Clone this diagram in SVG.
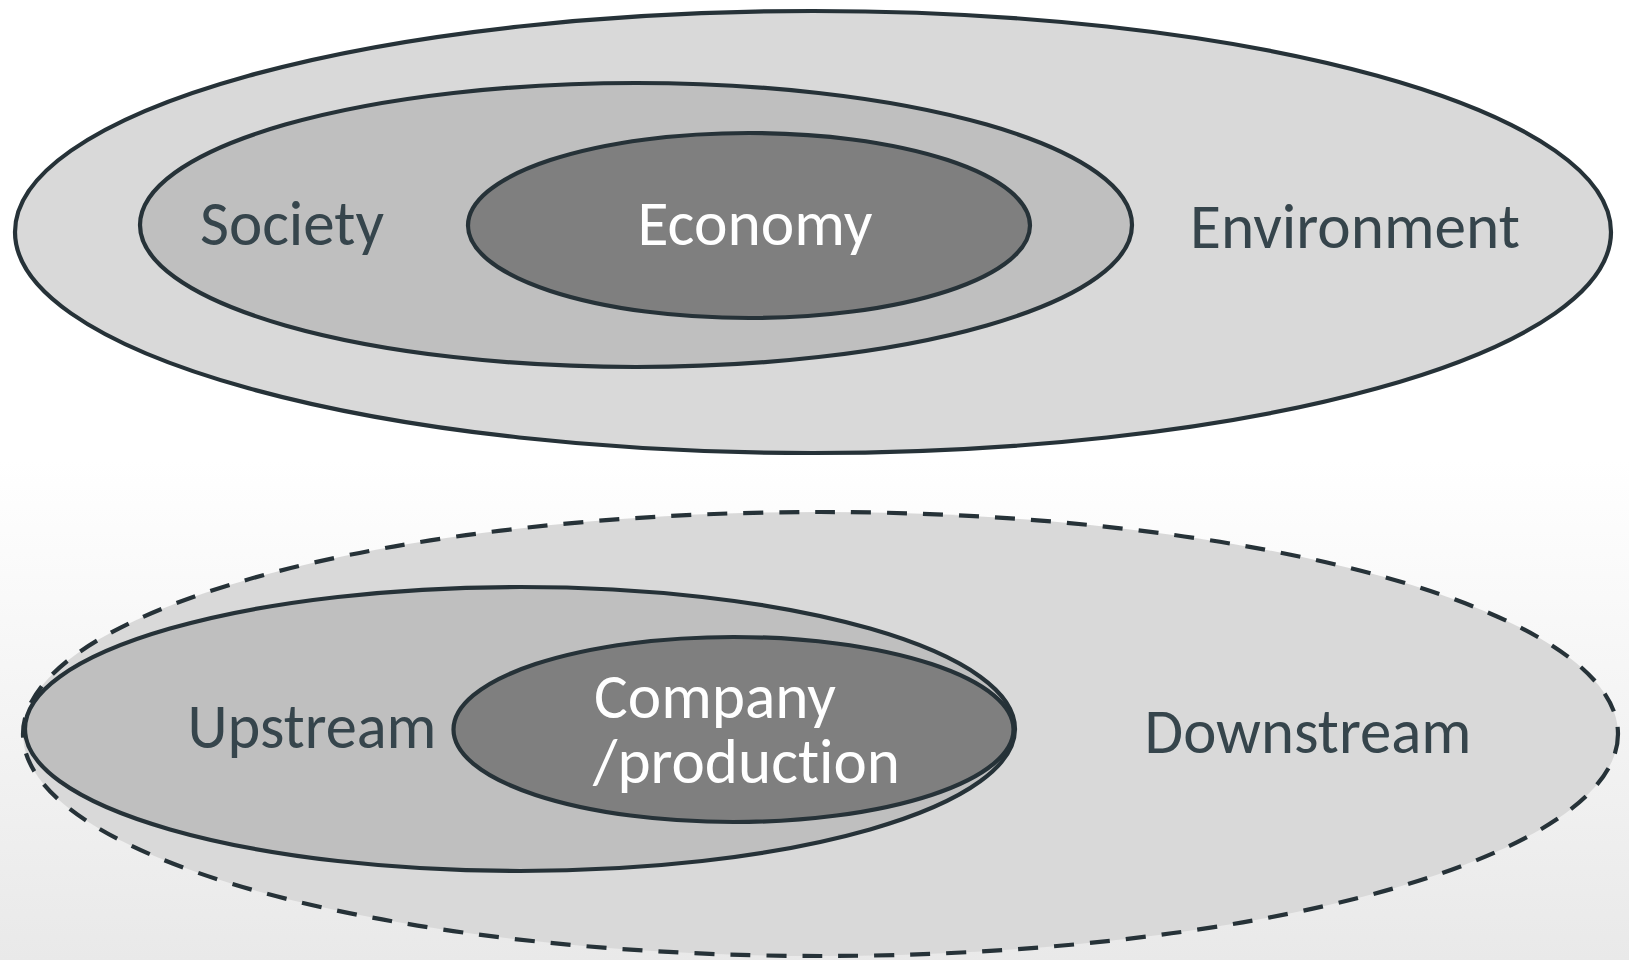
<svg xmlns="http://www.w3.org/2000/svg" width="1629" height="960" viewBox="0 0 1629 960">
  <defs>
    <linearGradient id="bg" x1="0" y1="0" x2="0" y2="1">
      <stop offset="0" stop-color="#ffffff"/>
      <stop offset="0.48" stop-color="#ffffff"/>
      <stop offset="1" stop-color="#e9e9e9"/>
    </linearGradient>
    <style>
      .ring { stroke: #263238; stroke-width: 4.2; }
      .outer { fill: #d9d9d9; }
      .mid { fill: #bfbfbf; }
      .core { fill: #7f7f7f; }
      .dashed { stroke-dasharray: 20 16; }
      .lbl { font-family: Carlito, Lato, "Open Sans", sans-serif; font-size: 63px; fill: #36454c; font-variant-ligatures: none; }
      .lbl-light { fill: #ffffff; }
    </style>
  </defs>

  <rect x="0" y="0" width="1629" height="960" fill="url(#bg)"/>

  <!-- Upper model: economy inside society inside environment -->
  <g id="environment">
    <ellipse class="ring outer" cx="813" cy="232" rx="798" ry="221"/>
    <text class="lbl" x="1355" y="248" text-anchor="middle" textLength="330" lengthAdjust="spacingAndGlyphs">Environment</text>
  </g>
  <g id="society">
    <ellipse class="ring mid" cx="636" cy="225" rx="496" ry="142"/>
    <text class="lbl" x="292" y="245" text-anchor="middle" textLength="184" lengthAdjust="spacingAndGlyphs">Society</text>
  </g>
  <g id="economy">
    <ellipse class="ring core" cx="749" cy="225.5" rx="281" ry="92.5"/>
    <text class="lbl lbl-light" x="755" y="245" text-anchor="middle" textLength="235" lengthAdjust="spacingAndGlyphs">Economy</text>
  </g>

  <!-- Lower model: value chain around the company -->
  <g id="downstream">
    <ellipse class="ring outer dashed" cx="820.5" cy="734" rx="797.5" ry="222"/>
    <text class="lbl" x="1308" y="753" text-anchor="middle" textLength="327" lengthAdjust="spacingAndGlyphs">Downstream</text>
  </g>
  <g id="upstream">
    <ellipse class="ring mid" cx="520" cy="729" rx="495" ry="142"/>
    <text class="lbl" x="312" y="748" text-anchor="middle" textLength="249" lengthAdjust="spacingAndGlyphs">Upstream</text>
  </g>
  <g id="company">
    <ellipse class="ring core" cx="733.5" cy="729.5" rx="280" ry="92.5"/>
    <text class="lbl lbl-light" x="594" y="718" textLength="242" lengthAdjust="spacingAndGlyphs">Company</text>
    <text class="lbl lbl-light" x="593" y="783" textLength="307" lengthAdjust="spacingAndGlyphs">/production</text>
  </g>

  <g id="connectors"/>
</svg>
